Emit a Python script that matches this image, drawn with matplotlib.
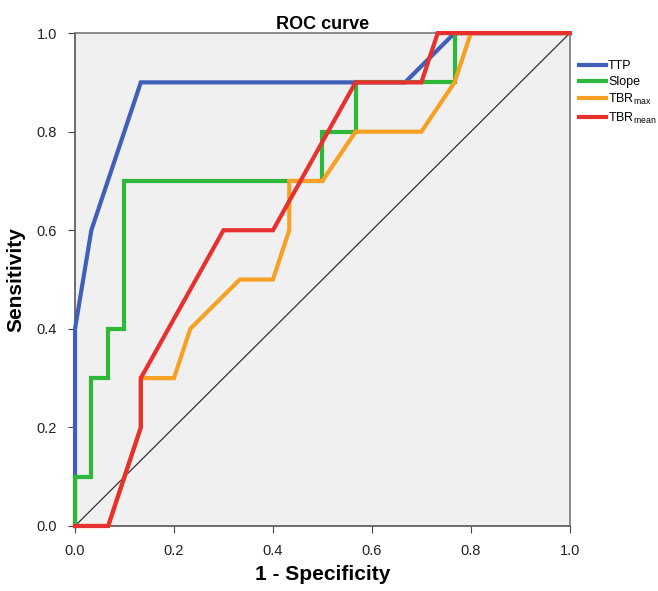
import matplotlib.pyplot as plt

plt.rcParams["font.family"] = ["Liberation Sans", "DejaVu Sans"]

# ROC points (1 - specificity, sensitivity)
ttp_fpr = [0, 0, 0.033, 0.133, 0.667, 0.767, 1.0]
ttp_tpr = [0, 0.4, 0.6, 0.9, 0.9, 1.0, 1.0]

slope_fpr = [0, 0, 0.033, 0.033, 0.067, 0.067, 0.1, 0.1, 0.5, 0.5, 0.567, 0.567, 0.767, 0.767, 1.0]
slope_tpr = [0, 0.1, 0.1, 0.3, 0.3, 0.4, 0.4, 0.7, 0.7, 0.8, 0.8, 0.9, 0.9, 1.0, 1.0]

tbrmax_fpr = [0, 0.067, 0.133, 0.133, 0.2, 0.233, 0.333, 0.4, 0.433, 0.433, 0.5, 0.567, 0.7, 0.767, 0.8, 1.0]
tbrmax_tpr = [0, 0, 0.2, 0.3, 0.3, 0.4, 0.5, 0.5, 0.6, 0.7, 0.7, 0.8, 0.8, 0.9, 1.0, 1.0]

tbrmean_fpr = [0, 0.067, 0.133, 0.133, 0.3, 0.4, 0.567, 0.7, 0.733, 1.0]
tbrmean_tpr = [0, 0, 0.2, 0.3, 0.6, 0.6, 0.9, 0.9, 1.0, 1.0]

labels = ["TTP", "Slope", "TBR$_{\\mathregular{max}}$", "TBR$_{\\mathregular{mean}}$"]
colors = ["#3f5fb8", "#2db83a", "#f7a023", "#e8302e"]
ticks = [0.0, 0.2, 0.4, 0.6, 0.8, 1.0]

fig = plt.figure(figsize=(6.58, 5.91), dpi=100)
ax = fig.add_axes([0.114, 0.110, 0.752, 0.834])
ax.set_facecolor("#f0f0f0")

ax.plot([0, 1], [0, 1], color="#333333", lw=0.9, zorder=2)
series = [(ttp_fpr, ttp_tpr), (slope_fpr, slope_tpr), (tbrmax_fpr, tbrmax_tpr), (tbrmean_fpr, tbrmean_tpr)]
for (x, y), lab, c in zip(series, labels, colors):
    ax.plot(x, y, color=c, lw=3, label=lab, solid_joinstyle="miter", zorder=3, clip_on=False)

ax.set_xlim(0, 1)
ax.set_ylim(0, 1)
ax.set_xticks(ticks)
ax.set_yticks(ticks)
ax.set_xticklabels([f"{t:.1f}" for t in ticks])
ax.set_yticklabels([f"{t:.1f}" for t in ticks])
ax.tick_params(labelsize=10.5, length=5, color="#444444", labelcolor="#222222", direction="out", pad=8)
for side in ["left", "bottom"]:
    ax.spines[side].set_color("#555555")
    ax.spines[side].set_linewidth(1.2)
for side in ["top", "right"]:
    ax.spines[side].set_color("#777777")
    ax.spines[side].set_linewidth(1.2)

ax.set_xlabel("1 - Specificity", fontsize=15, fontweight="bold", labelpad=5)
ax.set_ylabel("Sensitivity", fontsize=15, fontweight="bold", labelpad=8)
ax.set_title("ROC curve", fontsize=13, fontweight="bold", pad=1)

ax.legend(loc="upper left", bbox_to_anchor=(1.008, 0.955), frameon=False, fontsize=9,
          handlelength=2.2, handletextpad=0.15, labelspacing=0.3, borderaxespad=0)

fig.savefig("out.png", dpi=100)
